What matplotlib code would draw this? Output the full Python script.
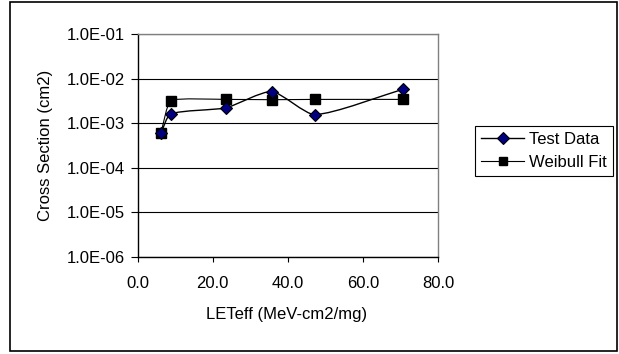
import numpy as np
import matplotlib
matplotlib.use("Agg")
import matplotlib.pyplot as plt
from matplotlib.path import Path
from matplotlib.patches import PathPatch, Rectangle
from matplotlib.lines import Line2D
from matplotlib.ticker import FuncFormatter, FixedLocator

# ---- data ----
let_test = [6.2, 8.8, 23.5, 35.7, 47.2, 70.8]
xs_test = [6.0e-4, 1.6e-3, 2.2e-3, 5.1e-3, 1.55e-3, 5.8e-3]
let_fit = [6.2, 8.8, 23.5, 35.7, 47.2, 70.8]
xs_fit = [6.0e-4, 3.2e-3, 3.4e-3, 3.35e-3, 3.4e-3, 3.4e-3]
x_ticks = [0.0, 20.0, 40.0, 60.0, 80.0]
y_ticks = [1e-6, 1e-5, 1e-4, 1e-3, 1e-2, 1e-1]
series_names = ["Test Data", "Weibull Fit"]
x_label = "LETeff (MeV-cm2/mg)"
y_label = "Cross Section (cm2)"

plt.rcParams['font.family'] = ['Liberation Sans', 'DejaVu Sans']
FS = 12

W, H = 619, 354
fig = plt.figure(figsize=(W / 100, H / 100), dpi=100)
L, R, T, B = 137.7, 438.0, 34.0, 256.7
ax = fig.add_axes([L / W, 1 - B / H, (R - L) / W, (B - T) / H])

ax.set_yscale('log')
ax.set_xlim(0, 80)
ax.set_ylim(1e-6, 1e-1)

# scale factors to make (x, log10 y) roughly isotropic in pixels
SX = (R - L) / 80.0
SY = (B - T) / 5.0


def smooth_path(xv, yv, t=0.2):
    """Smoothed line as cubic Bezier segments in (x, log10 y) space."""
    p = np.column_stack([np.asarray(xv, float) * SX,
                         np.log10(np.asarray(yv, float)) * SY])
    n = len(p)
    tang = []
    for i in range(n):
        a = p[i - 1] if i > 0 else p[i]
        b = p[i + 1] if i < n - 1 else p[i]
        d = b - a
        nd = np.hypot(*d)
        tang.append(d / nd if nd > 0 else d)
    verts = [p[0]]
    codes = [Path.MOVETO]
    for i in range(n - 1):
        seg = np.hypot(*(p[i + 1] - p[i]))
        c1 = p[i] + tang[i] * seg * t
        c2 = p[i + 1] - tang[i + 1] * seg * t
        verts += [c1, c2, p[i + 1]]
        codes += [Path.CURVE4] * 3
    verts = np.array(verts)
    verts[:, 0] = verts[:, 0] / SX
    verts[:, 1] = 10 ** (verts[:, 1] / SY)
    return Path(verts, codes)


ax.add_patch(PathPatch(smooth_path(let_fit, xs_fit, t=0.12), fill=False,
                       edgecolor='black', lw=0.8, zorder=3))
ax.add_patch(PathPatch(smooth_path(let_test, xs_test), fill=False,
                       edgecolor='black', lw=1.0, zorder=3))
ax.plot(let_fit, xs_fit, ls='none', marker='s', ms=7.5, mfc='black',
        mec='black', zorder=4)
ax.plot(let_test, xs_test, ls='none', marker='D', ms=6.5, mfc='#000080',
        mec='black', mew=0.8, zorder=5)

ax.yaxis.set_major_locator(FixedLocator(y_ticks))
ax.yaxis.set_minor_locator(FixedLocator([]))
ax.xaxis.set_major_locator(FixedLocator(x_ticks))


def yfmt(v, pos):
    e = int(np.round(np.log10(v)))
    m = v / 10 ** e
    return f"{m:.1f}E{e:+03d}"


ax.yaxis.set_major_formatter(FuncFormatter(yfmt))
ax.xaxis.set_major_formatter(FuncFormatter(lambda v, p: f"{v:.1f}"))

ax.grid(axis='y', color='black', lw=0.8)
ax.tick_params(axis='y', direction='out', length=5.4, width=0.8, pad=3.6,
               labelsize=FS, colors='black')
ax.tick_params(axis='x', direction='out', length=3.6, width=0.8, pad=10,
               labelsize=FS, colors='black')
for s in ['left', 'bottom']:
    ax.spines[s].set_color('black')
    ax.spines[s].set_linewidth(1.0)
for s in ['top', 'right']:
    ax.spines[s].set_color('#808080')
    ax.spines[s].set_linewidth(1.0)

ax.set_xlabel(x_label, fontsize=FS)
ax.set_ylabel(y_label, fontsize=FS)
ax.xaxis.set_label_coords(0.497, -(307 - B) / (B - T))
ax.yaxis.set_label_coords((53 - L) / (R - L), 0.5)

handles = [
    Line2D([], [], color='black', lw=1.0, marker='D', ms=6.5,
           mfc='#000080', mec='black', mew=0.8),
    Line2D([], [], color='black', lw=0.8, marker='s', ms=6, mfc='black',
           mec='black'),
]
leg = fig.legend(handles, series_names, loc='upper left',
                 bbox_to_anchor=(475 / W, 1 - 126 / H), fontsize=FS,
                 frameon=True, fancybox=False, framealpha=1,
                 edgecolor='black', borderpad=0.35, handlelength=2.6,
                 handletextpad=0.3, labelspacing=0.5, borderaxespad=0)
leg.get_frame().set_linewidth(0.8)

fig.patches.append(Rectangle((10 / W, 1 - 351 / H), (617 - 10) / W,
                             (351 - 2) / H, transform=fig.transFigure,
                             fill=False, edgecolor='black', lw=1.2))

fig.savefig('out.png', dpi=100)
